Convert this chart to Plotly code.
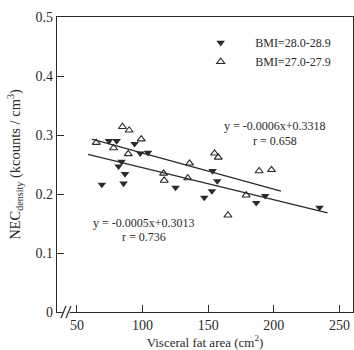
import plotly.graph_objects as go

# BMI = 28.0-28.9 (filled, triangle-down)
x_bmi28 = [74.4, 80.2, 93.9, 98.2, 104.1, 84.0, 81.7, 86.6, 69.0, 85.5, 125.1,
           153.3, 156.9, 152.8, 147.0, 193.4, 186.6, 234.8]
y_bmi28 = [0.290, 0.290, 0.285, 0.269, 0.270, 0.255, 0.247, 0.234, 0.216, 0.218, 0.211,
           0.239, 0.222, 0.205, 0.194, 0.197, 0.185, 0.177]

# BMI = 27.0-27.9 (open, triangle-up)
x_bmi27 = [64.7, 84.7, 89.8, 77.9, 99.0, 89.1, 116.0, 116.5, 135.8, 134.4,
           154.8, 157.6, 188.8, 198.2, 178.9, 165.0]
y_bmi27 = [0.287, 0.314, 0.308, 0.278, 0.293, 0.268, 0.235, 0.223, 0.252, 0.227,
           0.269, 0.262, 0.239, 0.241, 0.198, 0.164]

# regression line endpoints (as drawn)
line_upper_x = [61.4, 205.4]
line_upper_y = [0.293, 0.205]
line_lower_x = [58.4, 240.9]
line_lower_y = [0.267, 0.168]

eq_upper = ["y = -0.0006x+0.3318", "r = 0.658"]
eq_lower = ["y = -0.0005x+0.3013", "r = 0.736"]

legend_names = ["BMI=28.0-28.9", "BMI=27.0-27.9"]
x_ticks = [50, 100, 150, 200, 250]
y_ticks = [0, 0.1, 0.2, 0.3, 0.4, 0.5]
y_tick_text = ["0", "0.1", "0.2", "0.3", "0.4", "0.5"]

INK = "#2a2a2a"
FONT = "Liberation Serif"

fig = go.Figure()
fig.add_trace(go.Scatter(x=line_upper_x, y=line_upper_y, mode="lines",
                         line=dict(color=INK, width=1.3), showlegend=False, hoverinfo="skip"))
fig.add_trace(go.Scatter(x=line_lower_x, y=line_lower_y, mode="lines",
                         line=dict(color=INK, width=1.3), showlegend=False, hoverinfo="skip"))
fig.add_trace(go.Scatter(x=x_bmi28, y=y_bmi28, mode="markers", name=legend_names[0],
                         marker=dict(symbol="triangle-down", size=7.5, color=INK,
                                     line=dict(width=0))))
fig.add_trace(go.Scatter(x=x_bmi27, y=y_bmi27, mode="markers", name=legend_names[1],
                         marker=dict(symbol="triangle-up-open", size=7, color=INK,
                                     line=dict(width=1.1, color=INK))))

annots = [
    dict(x=201, y=0.316, text=eq_upper[0]),
    dict(x=201, y=0.290, text=eq_upper[1]),
    dict(x=101.3, y=0.151, text=eq_lower[0]),
    dict(x=101.3, y=0.127, text=eq_lower[1]),
]
for a in annots:
    fig.add_annotation(x=a["x"], y=a["y"], text=a["text"], showarrow=False,
                       xref="x", yref="y", font=dict(family=FONT, size=12, color=INK))

# axis break marks
shapes = [
    dict(type="line", xref="paper", yref="paper", x0=0.019, x1=0.043, y0=0, y1=0,
         line=dict(color="white", width=4)),
    dict(type="line", xref="paper", yref="paper", x0=0.0135, y0=-0.02, x1=0.0304, y1=0.02,
         line=dict(color=INK, width=1.2)),
    dict(type="line", xref="paper", yref="paper", x0=0.0304, y0=-0.02, x1=0.0473, y1=0.02,
         line=dict(color=INK, width=1.2)),
]

fig.update_layout(
    width=354, height=350,
    margin=dict(l=57, r=1, t=17, b=38),
    paper_bgcolor="white", plot_bgcolor="white",
    font=dict(family=FONT, size=14, color=INK),
    showlegend=True,
    legend=dict(x=0.4365, y=0.962, xanchor="left", yanchor="top",
                bgcolor="rgba(0,0,0,0)", font=dict(family=FONT, size=12, color=INK),
                itemwidth=59, tracegroupgap=0),
    shapes=shapes,
    xaxis=dict(range=[34.8, 260.3], tickvals=x_ticks, ticks="inside", ticklen=7,
               tickcolor=INK, showline=True, linecolor=INK, linewidth=1.2, mirror=True,
               showgrid=False, zeroline=False,
               tickfont=dict(family=FONT, size=14, color=INK),
               title=dict(text="Visceral fat area (cm<sup>2</sup>)", standoff=5,
                          font=dict(family=FONT, size=13, color=INK))),
    yaxis=dict(range=[0, 0.5], tickvals=y_ticks, ticktext=y_tick_text, ticks="inside",
               ticklen=7, tickcolor=INK, showline=True, linecolor=INK, linewidth=1.2,
               mirror=True, showgrid=False, zeroline=False,
               tickfont=dict(family=FONT, size=14, color=INK),
               title=dict(text="NEC<sub>density</sub> (kcounts / cm<sup>3</sup>)", standoff=11,
                          font=dict(family=FONT, size=14.5, color=INK))),
)

fig.write_html("out.html")
